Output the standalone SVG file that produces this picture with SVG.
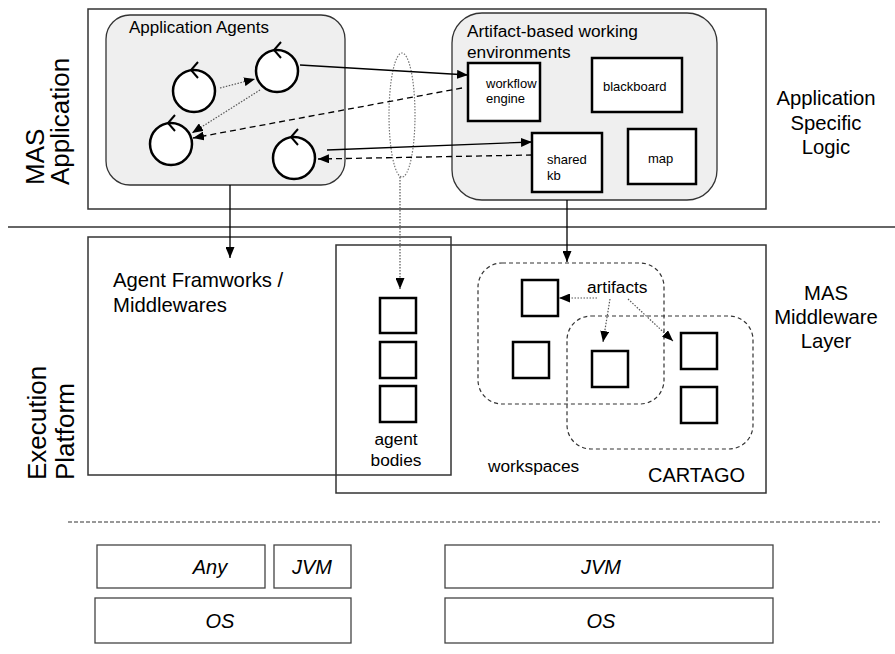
<svg xmlns="http://www.w3.org/2000/svg" width="895" height="654" viewBox="0 0 895 654">
<style>
text{font-family:"Liberation Sans",Arial,sans-serif;fill:#000}
.box{fill:#fff;stroke:#333;stroke-width:1.5}
.grp{fill:#efefef;stroke:#333;stroke-width:1.3}
.art{fill:#fff;stroke:#000;stroke-width:2.5}
.ag{fill:#fff;stroke:#000;stroke-width:2.5}
.tick{fill:none;stroke:#000;stroke-width:2}
.ws{fill:none;stroke:#333;stroke-width:1.2;stroke-dasharray:4,3}
.solid{fill:none;stroke:#000;stroke-width:1.3}
.dash{fill:none;stroke:#000;stroke-width:1.3;stroke-dasharray:6,4}
.dot{fill:none;stroke:#555;stroke-width:1.2;stroke-dasharray:1.5,1.5}
.plat{fill:#fff;stroke:#444;stroke-width:1.3}
.it{font-style:italic;font-size:20px}
</style>
<defs>
<marker id="ah" markerUnits="userSpaceOnUse" markerWidth="11" markerHeight="9" refX="11" refY="4.5" orient="auto">
<path d="M0,0 L11,4.5 L0,9 z" fill="#000"/>
</marker>
</defs>

<g id="layer-labels">
<text font-size="26" transform="translate(44,185) rotate(-90)">MAS</text>
<text font-size="26" transform="translate(69,185) rotate(-90)">Application</text>
<text font-size="26" transform="translate(46,480) rotate(-90)">Execution</text>
<text font-size="26" transform="translate(74,480) rotate(-90)">Platform</text>
<text font-size="20.3" text-anchor="middle" x="826" y="105">Application</text>
<text font-size="20.3" text-anchor="middle" x="826" y="130">Specific</text>
<text font-size="20.3" text-anchor="middle" x="826" y="154">Logic</text>
<text font-size="20.3" text-anchor="middle" x="826" y="300">MAS</text>
<text font-size="20.3" text-anchor="middle" x="826" y="324">Middleware</text>
<text font-size="20.3" text-anchor="middle" x="826" y="348">Layer</text>
</g>

<line x1="8" y1="227" x2="895" y2="227" stroke="#333" stroke-width="1.3"/>
<line x1="68" y1="522" x2="880" y2="522" stroke="#333" stroke-width="1.2" stroke-dasharray="4,2"/>

<g id="mas-application">
<rect class="box" x="88" y="9" width="678" height="200"/>
</g>

<g id="application-agents">
<rect class="grp" x="106" y="15" width="239" height="170" rx="24"/>
<text font-size="17" x="129" y="33">Application Agents</text>
</g>

<g id="agent1"><circle class="ag" cx="194" cy="91" r="21"/><polyline class="tick" points="198,62 191,70 198,78"/></g>
<g id="agent2"><circle class="ag" cx="277" cy="71" r="21"/><polyline class="tick" points="281,42 274,50 281,58"/></g>
<g id="agent3"><circle class="ag" cx="171" cy="144" r="21"/><polyline class="tick" points="175,115 168,123 175,131"/></g>
<g id="agent4"><circle class="ag" cx="294" cy="158" r="21"/><polyline class="tick" points="298,129 291,137 298,145"/></g>

<g id="artifact-environments">
<rect class="grp" x="452" y="13" width="265" height="187" rx="30"/>
<text font-size="17.3" x="467" y="37">Artifact-based working</text>
<text font-size="17.3" x="467" y="58">environments</text>
</g>

<g id="workflow-engine">
<rect class="art" x="468" y="63" width="72" height="58"/>
<text font-size="13" x="486" y="88">workflow</text>
<text font-size="13" x="486" y="103">engine</text>
</g>
<g id="blackboard">
<rect class="art" x="592" y="58" width="90" height="54"/>
<text font-size="13" x="603" y="91">blackboard</text>
</g>
<g id="shared-kb">
<rect class="art" x="532" y="133" width="70" height="59"/>
<text font-size="13" x="547" y="164">shared</text>
<text font-size="13" x="547" y="180">kb</text>
</g>
<g id="map">
<rect class="art" x="628" y="129" width="68" height="55"/>
<text font-size="13" x="648" y="163">map</text>
</g>

<g id="agent-link">
<ellipse cx="402" cy="115" rx="13" ry="62" fill="none" stroke="#777" stroke-width="1.2" stroke-dasharray="1.5,1.5"/>
</g>

<g id="agent-frameworks">
<rect class="box" x="88" y="237" width="363" height="238" fill="none"/>
<text font-size="20.3" x="113" y="287">Agent Framworks /</text>
<text font-size="20.3" x="113" y="312">Middlewares</text>
</g>

<g id="cartago">
<rect class="box" x="336" y="245" width="430" height="248" fill="none" style="fill:none"/>
<text font-size="20" x="648" y="482">CARTAGO</text>
</g>

<g id="agent-bodies">
<rect class="art" x="380" y="298" width="36" height="35"/>
<rect class="art" x="380" y="342" width="36" height="36"/>
<rect class="art" x="380" y="386" width="36" height="36"/>
<text font-size="17.3" text-anchor="middle" x="396" y="445">agent</text>
<text font-size="17.3" text-anchor="middle" x="396" y="466">bodies</text>
</g>

<g id="workspaces">
<rect class="ws" x="478" y="263" width="186" height="141" rx="24"/>
<rect class="ws" x="567" y="316" width="186" height="133" rx="24"/>
<text font-size="17.3" x="488" y="472">workspaces</text>
</g>

<g id="artifacts">
<rect class="art" x="522" y="280" width="36" height="36"/>
<rect class="art" x="513" y="342" width="36" height="36"/>
<rect class="art" x="592" y="351" width="36" height="36"/>
<rect class="art" x="681" y="333" width="36" height="36"/>
<rect class="art" x="681" y="387" width="36" height="36"/>
<text font-size="17.3" x="587" y="293">artifacts</text>
</g>

<g id="platform">
<rect class="plat" x="97" y="545" width="168" height="43"/>
<text class="it" text-anchor="middle" x="210" y="574">Any</text>
<rect class="plat" x="274" y="545" width="77" height="43"/>
<text class="it" text-anchor="middle" x="312" y="574">JVM</text>
<rect class="plat" x="95" y="598" width="256" height="45"/>
<text class="it" text-anchor="middle" x="220" y="628">OS</text>
<rect class="plat" x="445" y="545" width="328" height="43"/>
<text class="it" text-anchor="middle" x="601" y="574">JVM</text>
<rect class="plat" x="445" y="598" width="328" height="45"/>
<text class="it" text-anchor="middle" x="601" y="628">OS</text>
</g>

<g id="connectors">
<line class="dot" x1="220" y1="88" x2="255" y2="79" marker-end="url(#ah)"/>
<line class="dot" x1="260" y1="90" x2="192" y2="133" marker-end="url(#ah)"/>
<line class="solid" x1="300" y1="65" x2="468" y2="75" marker-end="url(#ah)"/>
<line class="dash" x1="462" y1="88" x2="193" y2="138" marker-end="url(#ah)"/>
<line class="solid" x1="327" y1="150" x2="532" y2="142" marker-end="url(#ah)"/>
<line class="dash" x1="532" y1="155" x2="318" y2="159" marker-end="url(#ah)"/>
<line class="solid" x1="230" y1="185" x2="230" y2="258" marker-end="url(#ah)"/>
<line class="solid" x1="567" y1="200" x2="567" y2="262" marker-end="url(#ah)"/>
<line class="dot" x1="400" y1="177" x2="400" y2="289" marker-end="url(#ah)"/>
<line class="dot" x1="597" y1="298" x2="559" y2="298" marker-end="url(#ah)"/>
<line class="dot" x1="610" y1="299" x2="603" y2="342" marker-end="url(#ah)"/>
<line class="dot" x1="628" y1="299" x2="673" y2="341" marker-end="url(#ah)"/>
</g>
</svg>
